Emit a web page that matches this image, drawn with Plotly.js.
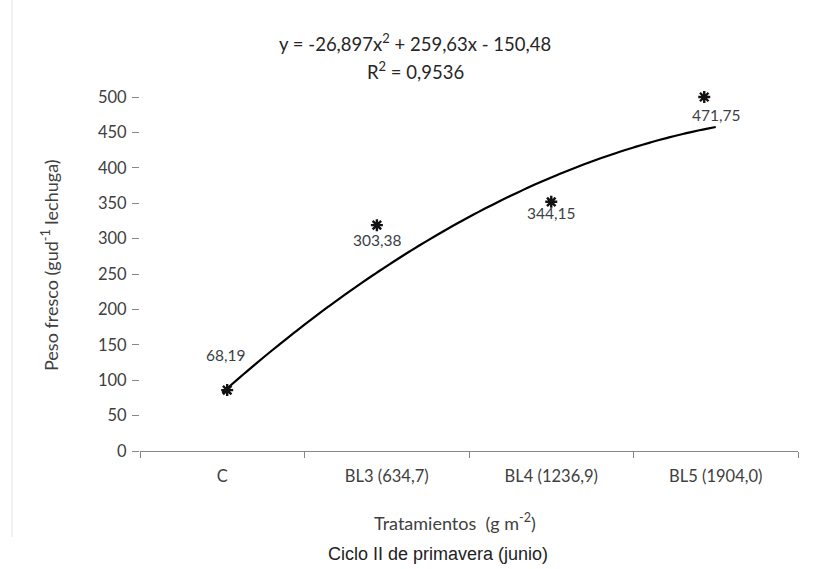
<!DOCTYPE html>
<html>
<head>
<meta charset="utf-8">
<script src="https://cdn.plot.ly/plotly-3.0.1.min.js"></script>
<style>
  html, body { margin: 0; padding: 0; background: #ffffff; }
  #chart { width: 817px; height: 569px; }
</style>
</head>
<body>
<div id="chart"></div>
<script>
// ---- data ----
const categories = ['C', 'BL3 (634,7)', 'BL4 (1236,9)', 'BL5 (1904,0)'];
const pesoFresco = [68.19, 303.38, 344.15, 471.75];          // data labels
const asteriskX = [1.03, 1.94, 3.0, 3.93];                    // asterisk positions (category units)
const asteriskY = [86, 319, 352, 500];                        // asterisk heights (g)
const trendCoef = [-26.897, 259.63, -150.48];                 // y = a x^2 + b x + c
const rSquared = '0,9536';
const yTicks = [0, 50, 100, 150, 200, 250, 300, 350, 400, 450, 500];

// ---- styling / label offsets (pixels) ----
const labelShiftX = [3, -10, 0, 0];
const labelShiftY = [48, -4, -6, 2];

const catPos = categories.map((_, i) => i + 1);
const trendX = [], trendY = [];
for (let i = 0; i <= 60; i++) {
  const x = 1 + i * 0.05;
  trendX.push(x);
  trendY.push(trendCoef[0] * x * x + trendCoef[1] * x + trendCoef[2]);
}
const fmt = v => v.toFixed(2).replace('.', ',');
const fmtC = v => String(v).replace('.', ',');

const font = 'Lato, "Open Sans", sans-serif';
const axisGray = '#878787';
const textGray = '#404040';
const labelColor = '#3b3f47';

const traces = [
  {
    x: trendX, y: trendY, type: 'scatter', mode: 'lines',
    line: { color: '#000000', width: 2.2, shape: 'spline' },
    hoverinfo: 'skip', showlegend: false
  },
  {
    x: asteriskX, y: asteriskY, type: 'scatter', mode: 'markers', cliponaxis: false,
    marker: { symbol: 'asterisk-open', size: 10, color: '#111111',
              line: { color: '#111111', width: 2.4 } },
    showlegend: false
  },
  {
    x: [0.5, 4.5], y: [0, 0], xaxis: 'x2', type: 'scatter', mode: 'lines',
    line: { width: 0, color: 'rgba(0,0,0,0)' }, hoverinfo: 'skip', showlegend: false
  }
];

const annotations = pesoFresco.map((v, i) => ({
  x: catPos[i], y: v, xref: 'x', yref: 'y', text: fmt(v), showarrow: false,
  xshift: labelShiftX[i], yshift: labelShiftY[i],
  font: { family: font, size: 15.5, color: labelColor }
}));

const eqText = 'y = ' + fmtC(trendCoef[0]) + 'x<sup>2</sup> + ' + fmtC(trendCoef[1]) +
               'x - ' + fmtC(-trendCoef[2]);
annotations.push({
  xref: 'paper', yref: 'paper', x: (415 - 140) / 658, y: (451 - 42) / 354, text: eqText,
  showarrow: false, xanchor: 'center', yanchor: 'middle',
  font: { family: font, size: 18.5, color: '#262626' }
});
annotations.push({
  xref: 'paper', yref: 'paper', x: (415 - 140) / 658, y: (451 - 70) / 354,
  text: 'R<sup>2</sup> = ' + rSquared,
  showarrow: false, xanchor: 'center', yanchor: 'middle',
  font: { family: font, size: 18.5, color: '#262626' }
});
annotations.push({
  xref: 'paper', yref: 'paper', x: (455 - 140) / 658, y: (451 - 522) / 354,
  text: 'Tratamientos  (g m<sup>-2</sup>)',
  showarrow: false, xanchor: 'center', yanchor: 'middle',
  font: { family: font, size: 18, color: textGray }
});
annotations.push({
  xref: 'paper', yref: 'paper', x: (438 - 140) / 658, y: (451 - 554) / 354,
  text: 'Ciclo II de primavera (junio)', showarrow: false, xanchor: 'center', yanchor: 'middle',
  font: { family: '"Liberation Sans", Arial, sans-serif', size: 18, color: '#222222' }
});
annotations.push({
  xref: 'paper', yref: 'paper', x: (50 - 140) / 658, y: (451 - 265) / 354, textangle: -90,
  text: 'Peso fresco (gud<sup>-1</sup> lechuga)', showarrow: false,
  xanchor: 'center', yanchor: 'middle',
  font: { family: font, size: 18, color: textGray }
});

const layout = {
  width: 817, height: 569,
  margin: { l: 140, r: 19, t: 97, b: 118 },
  paper_bgcolor: '#ffffff', plot_bgcolor: '#ffffff',
  font: { family: font, color: textGray },
  showlegend: false,
  xaxis: {
    range: [0.5, 4.5], tickvals: catPos, ticktext: categories, ticks: '',
    ticklabelstandoff: 10,
    showline: true, linecolor: axisGray, linewidth: 1, showgrid: false, zeroline: false,
    tickfont: { family: font, size: 16.5, color: textGray }, fixedrange: true
  },
  xaxis2: {
    overlaying: 'x', anchor: 'y', range: [0.5, 4.5], tickvals: [0.5, 1.5, 2.5, 3.5, 4.5],
    ticks: 'outside', ticklen: 6, tickcolor: axisGray, tickwidth: 1,
    showticklabels: false, showline: false, showgrid: false, zeroline: false, side: 'bottom'
  },
  yaxis: {
    range: [0, 500], tickvals: yTicks, ticks: 'outside', ticklen: 7, tickcolor: axisGray,
    showline: false, showgrid: false, zeroline: false, ticklabelstandoff: 2,
    tickfont: { family: font, size: 16.5, color: textGray }
  },
  shapes: [{
    type: 'line', xref: 'paper', yref: 'paper',
    x0: (12 - 140) / 658, x1: (12 - 140) / 658, y0: (451 - 537) / 354, y1: 451 / 354,
    line: { color: '#e3e3e3', width: 1 }
  }],
  annotations: annotations
};

Plotly.newPlot('chart', traces, layout, { displayModeBar: false, staticPlot: true });
</script>
</body>
</html>
